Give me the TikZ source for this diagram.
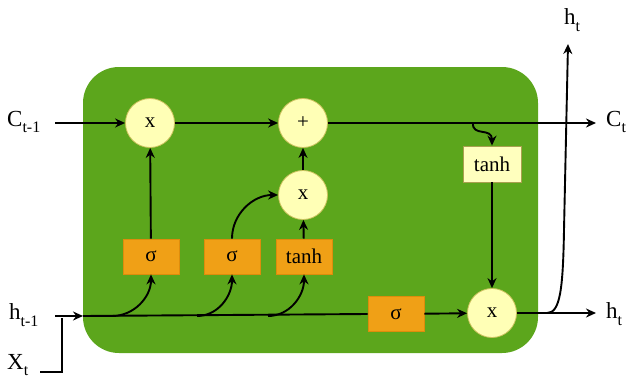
\documentclass[tikz,border=0pt]{standalone}
\usepackage{fontspec}
\setmainfont{Liberation Serif}
\usetikzlibrary{arrows.meta}
\definecolor{cellgreen}{RGB}{92,166,28}
\definecolor{circfill}{RGB}{255,255,182}
\definecolor{circdraw}{RGB}{205,195,95}
\definecolor{boxorange}{RGB}{240,160,22}
\definecolor{boxorangedraw}{RGB}{222,140,12}
\definecolor{tanhfill}{RGB}{255,255,190}
\definecolor{tanhdraw}{RGB}{170,160,80}
\newcommand\sbs[1]{\raisebox{-0.28em}{\fontsize{16}{18}\selectfont #1}}
\tikzset{
  circ/.style={circle, fill=circfill, draw=circdraw, line width=0.8pt, minimum size=49pt, inner sep=0pt, font=\fontsize{21}{23}\selectfont},
  obox/.style={rectangle, fill=boxorange, draw=boxorangedraw, line width=0.8pt, minimum width=56pt, minimum height=35pt, inner sep=0pt, font=\fontsize{21}{23}\selectfont},
  ybox/.style={rectangle, fill=tanhfill, draw=tanhdraw, line width=0.8pt, minimum width=58pt, minimum height=36pt, inner sep=0pt, font=\fontsize{21}{23}\selectfont},
  lab/.style={inner sep=0pt, font=\fontsize{23}{25}\selectfont},
  conn/.style={line width=1.9pt, black},
  arr/.style={conn, -{Stealth[length=10pt,width=9pt]}},
}
\begin{document}
\begin{tikzpicture}[x=1pt,y=-1pt]
\useasboundingbox (0,0) rectangle (627,380);
% cell
\fill[cellgreen, rounded corners=36pt] (83,67) rectangle (538,353);
% nodes
\node[circ] (m1) at (150,123) {x};
\node[circ] (plus) at (303,123) {+};
\node[circ] (m2) at (303,195) {x};
\node[circ] (m3) at (492,313) {x};
\node[obox] (s1) at (151,256.5) {σ};
\node[obox] (s2) at (232,256.5) {σ};
\node[obox] (t1) at (304,256.5) {tanh};
\node[obox] (s3) at (396,314) {σ};
\node[ybox] (t2) at (492,164) {tanh};
% labels
\node[lab, anchor=west] (cin) at (7,122) {C\sbs{t-1}};
\node[lab, anchor=west] (hin) at (9,315) {h\sbs{t-1}};
\node[lab, anchor=west] (xin) at (7,365) {X\sbs{t}};
\node[lab, anchor=west] (cout) at (606,122) {C\sbs{t}};
\node[lab, anchor=west] (hout) at (606,314) {h\sbs{t}};
\node[lab] (htop) at (572,20) {h\sbs{t}};
% coordinates
\coordinate (cstart) at (55,123);
\coordinate (cend) at (596,123);
\coordinate (hstart) at (55,316);
\coordinate (hjoin) at (83,316);
\coordinate (xstart) at (40,372);
\coordinate (xjoin) at (62,318);
\coordinate (b1) at (112,316);
\coordinate (b2) at (197,316);
\coordinate (b3) at (268,316);
\coordinate (sq) at (473,123);
\coordinate (hb) at (547,313);
\coordinate (hend) at (596,313);
\coordinate (hup) at (568,44);
% connectors
\draw[arr] (cstart) -- (m1);
\draw[arr] (m1) -- (plus);
\draw[arr] (plus) -- (cend);
\draw[arr] (hstart) -- (hjoin);
\draw[conn] (xstart) -| (xjoin);
\draw[conn] (hjoin) -- (s3.west);
\draw[arr] (s3) -- (m3);
\draw[arr] (m3) -- (hend);
\draw[arr] (b1) to[out=0,in=-90] (s1.south);
\draw[arr] (b2) to[out=0,in=-90] (s2.south);
\draw[arr] (b3) to[out=0,in=-90] (t1.south);
\draw[arr] (s1) -- (m1);
\draw[arr] (s2.north) to[out=90,in=180] (m2.west);
\draw[arr] (t1) -- (m2);
\draw[arr] (m2) -- (plus);
\draw[arr] (sq) .. controls (472,137) and (492,127) .. (t2.north);
\draw[arr] (t2) -- (m3);
\draw[arr] (hb) .. controls (560,313) and (563,290) .. (564,230) -- (hup);
\end{tikzpicture}
\end{document}
